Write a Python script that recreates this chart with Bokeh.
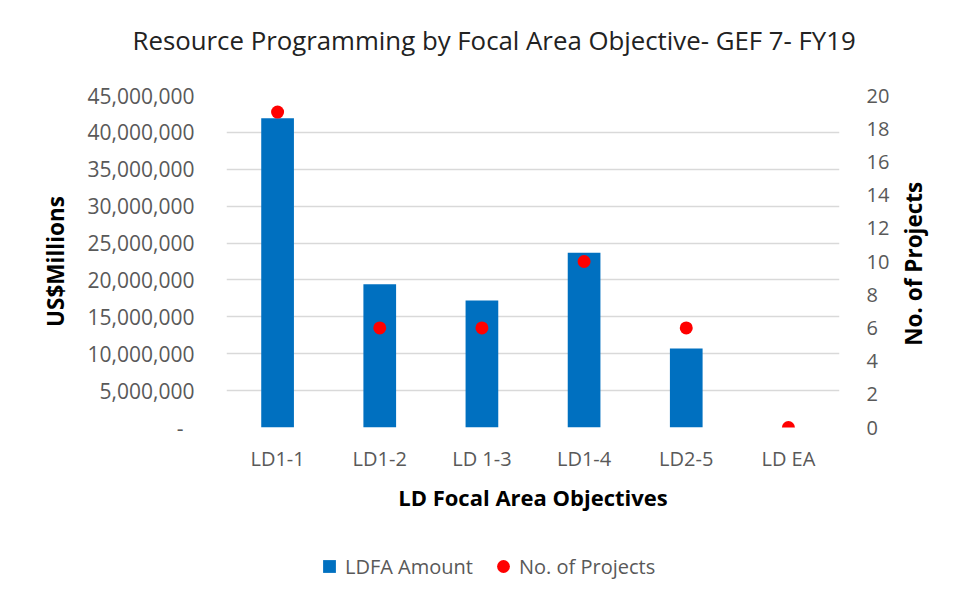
import math
from bokeh.plotting import figure
from bokeh.layouts import column
from bokeh.models import (Range1d, LinearAxis, FixedTicker, CustomJSTickFormatter,
                          Legend, LegendItem, ColumnDataSource, Title)
from bokeh.embed import file_html
from bokeh.resources import INLINE

categories = ["LD1-1", "LD1-2", "LD 1-3", "LD1-4", "LD2-5", "LD EA"]
ldfa_amount = [41900000, 19400000, 17200000, 23700000, 10700000, 0]
num_projects = [19, 6, 6, 10, 6, 0]
amount_ticks = [0, 5000000, 10000000, 15000000, 20000000, 25000000,
                30000000, 35000000, 40000000, 45000000]
project_ticks = [0, 2, 4, 6, 8, 10, 12, 14, 16, 18, 20]

FONT = "Open Sans"
GRAY = "#595959"
BLUE = "#0070C0"
RED = "#FF0000"

src = ColumnDataSource(dict(cat=categories, amt=ldfa_amount, proj=num_projects))

# ---------------- main chart ----------------
p = figure(width=947, height=527, x_range=categories,
           y_range=Range1d(amount_ticks[0], amount_ticks[-1]),
           output_backend="svg", toolbar_location=None,
           min_border_left=226, min_border_right=95,
           min_border_top=95, min_border_bottom=100)
p.extra_y_ranges = {"proj": Range1d(project_ticks[0], project_ticks[-1])}

p.outline_line_color = None
p.background_fill_color = "white"
p.border_fill_color = "white"

# spacer between title and plot area (inner "above" panel)
p.add_layout(Title(text=" ", text_font_size="1px", standoff=30), "above")

p.title.text = "Resource Programming by Focal Area Objective- GEF 7- FY19"
p.title.text_font = FONT
p.title.text_font_size = "25.8px"
p.title.text_font_style = "normal"
p.title.text_color = "#222222"
p.title.align = "left"
p.title.offset = -94
p.title.standoff = 10

bars = p.vbar(x="cat", top="amt", width=0.32, source=src,
              fill_color=BLUE, line_color=None)
dots = p.scatter(x="cat", y="proj", source=src, y_range_name="proj",
                 size=13, marker="circle", fill_color=RED, line_color=None)

p.xaxis.axis_line_color = None
p.xaxis.major_tick_line_color = None
p.xaxis.minor_tick_line_color = None
p.xaxis.major_label_text_font = FONT
p.xaxis.major_label_text_font_size = "20px"
p.xaxis.major_label_text_color = GRAY
p.xaxis.major_label_standoff = 11
p.xaxis.axis_label = "LD Focal Area Objectives"
p.xaxis.axis_label_text_font = FONT
p.xaxis.axis_label_text_font_size = "22px"
p.xaxis.axis_label_text_font_style = "bold"
p.xaxis.axis_label_text_color = "black"
p.xaxis.axis_label_standoff = 7

yl = p.yaxis[0]
yl.ticker = FixedTicker(ticks=amount_ticks)
yl.formatter = CustomJSTickFormatter(
    code="return tick == 0 ? '-\\u00a0\\u00a0' : tick.toLocaleString('en-US');")
yl.axis_line_color = None
yl.major_tick_line_color = None
yl.minor_tick_line_color = None
yl.major_label_text_font = FONT
yl.major_label_text_font_size = "21px"
yl.major_label_text_color = GRAY
yl.major_label_standoff = 26
yl.axis_label = "US$Millions"
yl.axis_label_text_font = FONT
yl.axis_label_text_font_size = "22.5px"
yl.axis_label_text_font_style = "bold"
yl.axis_label_text_color = "black"
yl.axis_label_standoff = 14

yr = LinearAxis(y_range_name="proj", ticker=FixedTicker(ticks=project_ticks))
yr.axis_line_color = None
yr.major_tick_line_color = None
yr.minor_tick_line_color = None
yr.major_label_text_font = FONT
yr.major_label_text_font_size = "20px"
yr.major_label_text_color = GRAY
yr.major_label_standoff = 21
# leading no-break spaces keep the bottom-to-top label centred on the axis
yr.axis_label = "\u00a0" * 14 + "No. of Projects"
yr.axis_label_text_font = FONT
yr.axis_label_text_font_size = "22.5px"
yr.axis_label_text_font_style = "bold"
yr.axis_label_text_color = "black"
yr.axis_label_standoff = 21
yr.axis_label_orientation = math.pi / 2
yr.axis_label_align = "start"
p.add_layout(yr, "right")

p.xgrid.grid_line_color = None
p.ygrid.ticker = FixedTicker(ticks=amount_ticks)
p.ygrid.grid_line_color = "#d9d9d9"
p.ygrid.grid_line_width = 1.5

# ---------------- legend strip ----------------
lg = figure(width=947, height=75, x_range=categories, y_range=Range1d(0, 1),
            output_backend="svg", toolbar_location=None,
            x_axis_location=None, y_axis_location=None,
            min_border=0, min_border_left=0, min_border_right=0,
            min_border_top=0, min_border_bottom=0)
lg.outline_line_color = None
lg.grid.visible = False
lg.background_fill_color = "white"
lg.border_fill_color = "white"

# zero-size markers: they only provide the legend swatches
key_bar = lg.scatter(x="cat", y="proj", source=src, size=0, marker="square",
                     fill_color=BLUE, line_color=None)
key_dot = lg.scatter(x="cat", y="proj", source=src, size=0, marker="circle",
                     fill_color=RED, line_color=None)

leg = Legend(items=[LegendItem(label="LDFA Amount", renderers=[key_bar]),
                    LegendItem(label="No. of Projects", renderers=[key_dot])],
             location=(87, 20), orientation="horizontal",
             glyph_width=32, glyph_height=32, label_standoff=0, spacing=14,
             padding=0, margin=0, border_line_color=None,
             background_fill_alpha=0,
             label_text_font=FONT, label_text_font_size="20px",
             label_text_color=GRAY)
lg.add_layout(leg, "center")

layout = column(p, lg, spacing=0)

open("out.html", "w").write(file_html(layout, INLINE))
